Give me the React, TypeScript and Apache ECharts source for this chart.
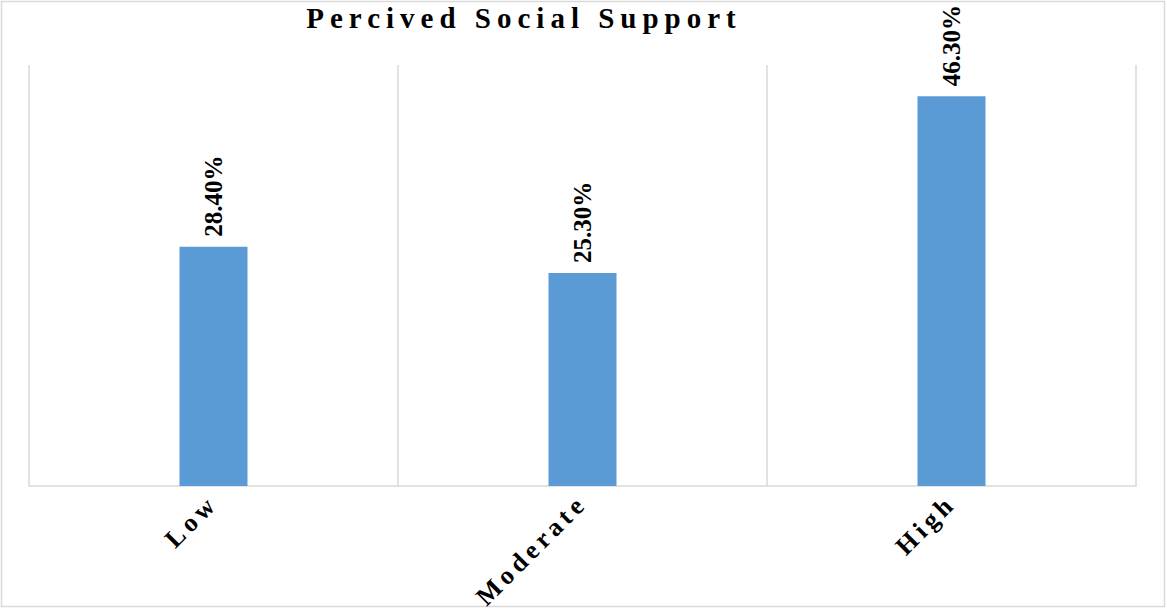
import React, { useEffect, useRef } from "react";
import * as echarts from "echarts";

const categories = ["Low", "Moderate", "High"];
const values = [28.4, 25.3, 46.3];
const titleText = "Percived Social Support";

export default function App() {
  const ref = useRef<HTMLDivElement>(null);
  useEffect(() => {
    if (!ref.current) return;
    const chart = echarts.init(ref.current, null, { renderer: "svg" });
    chart.setOption({
      animation: false,
      backgroundColor: "#ffffff",
      title: {
        text: titleText,
        left: 519,
        top: -2,
        textAlign: "center",
        textStyle: {
          fontFamily: "Times New Roman",
          fontWeight: "bold",
          fontSize: 29,
          color: "#000000",
        },
      },
      graphic: [
        {
          type: "rect",
          shape: { x: 1.5, y: 1.5, width: 1163, height: 605 },
          style: { fill: "none", stroke: "#d9d9d9", lineWidth: 1.5 },
          silent: true,
        },
      ],
      grid: { left: 29, right: 31, top: 65, bottom: 124, containLabel: false },
      xAxis: {
        type: "category",
        data: categories,
        axisLine: { show: true, lineStyle: { color: "#d9d9d9", width: 1.5 } },
        axisTick: { show: false },
        splitLine: { show: true, lineStyle: { color: "#d9d9d9", width: 1.5 } },
        axisLabel: {
          interval: 0,
          rotate: 45,
          margin: 13,
          fontFamily: "Times New Roman",
          fontWeight: "bold",
          fontSize: 26,
          color: "#000000",
        },
      },
      yAxis: {
        type: "value",
        min: 0,
        max: 50,
        show: false,
        splitLine: { show: false },
      },
      series: [
        {
          type: "bar",
          data: values,
          barWidth: 68,
          itemStyle: { color: "#5b9bd5" },
          label: {
            show: true,
            position: "top",
            rotate: 90,
            align: "left",
            verticalAlign: "middle",
            distance: 10,
            formatter: (p: any) => Number(p.value).toFixed(2) + "%",
            fontFamily: "Liberation Serif",
            fontWeight: "bold",
            fontSize: 25,
            color: "#000000",
          },
        },
      ],
    });
    return () => chart.dispose();
  }, []);
  return (
    <>
      <style>{`body{margin:0;}
text[style*="Times New Roman"], text[font-family*="Times New Roman"]{letter-spacing:4.5px;}
text[style*="29px"], text[font-size*="29"]{letter-spacing:6px;}`}</style>
      <div ref={ref} style={{ width: 1167, height: 610 }} />
    </>
  );
}
